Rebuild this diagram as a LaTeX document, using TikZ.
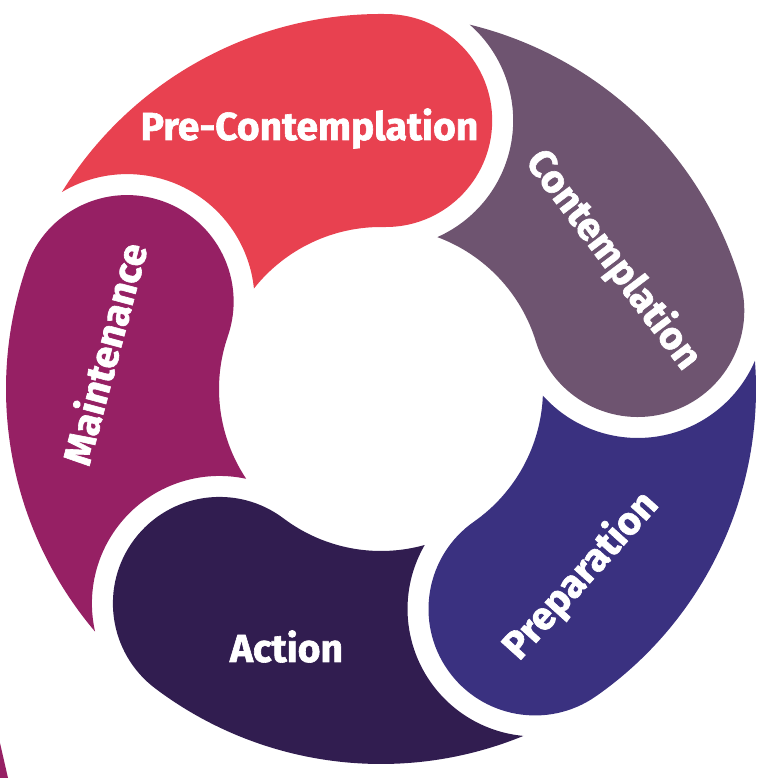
\documentclass[tikz,border=0pt]{standalone}
\usepackage{fontspec}
\setmainfont{Fira Sans}[BoldFeatures={FakeBold=1.6}]
\definecolor{cPre}{HTML}{E84150}
\definecolor{cCon}{HTML}{6E5470}
\definecolor{cPrep}{HTML}{3A3180}
\definecolor{cAct}{HTML}{311D50}
\definecolor{cMai}{HTML}{962064}
\newcommand{\ringseg}[2]{%
  \fill[#2, shift={(381pt,389pt)}, rotate=#1]
    (59.32:375pt) arc[start angle=59.32, end angle=0, radius=375pt]
    arc[start angle=0, end angle=-180, radius=106.5pt]
    arc[start angle=0, end angle=52.66, radius=162pt]
    arc[start angle=-83.11, end angle=31.76, radius=127.5pt] -- cycle;}
\tikzset{lbl/.style={text=white, font=\fontsize{39}{43}\selectfont\bfseries, inner sep=0pt}}
\begin{document}
\begin{tikzpicture}
\useasboundingbox (0pt,0pt) rectangle (762pt,778pt);
\ringseg{89}{cPre}
\ringseg{17}{cCon}
\ringseg{-55}{cPrep}
\ringseg{-127}{cAct}
\ringseg{-199}{cMai}
\fill[cMai] (0pt,0pt) -- (0pt,35pt) -- (8pt,0pt) -- cycle;
\node[lbl, anchor=base] (pre) at (309.5pt,638pt) {Pre-Contemplation};
\node[lbl, rotate=-53] (con) at (613pt,518pt) {Contemplation};
\node[lbl, rotate=48] (prep) at (581pt,202pt) {Preparation};
\node[lbl, anchor=base] (act) at (286.5pt,116pt) {Action};
\node[lbl, rotate=75] (mai) at (103.5pt,424.5pt) {Maintenance};
\end{tikzpicture}
\end{document}
